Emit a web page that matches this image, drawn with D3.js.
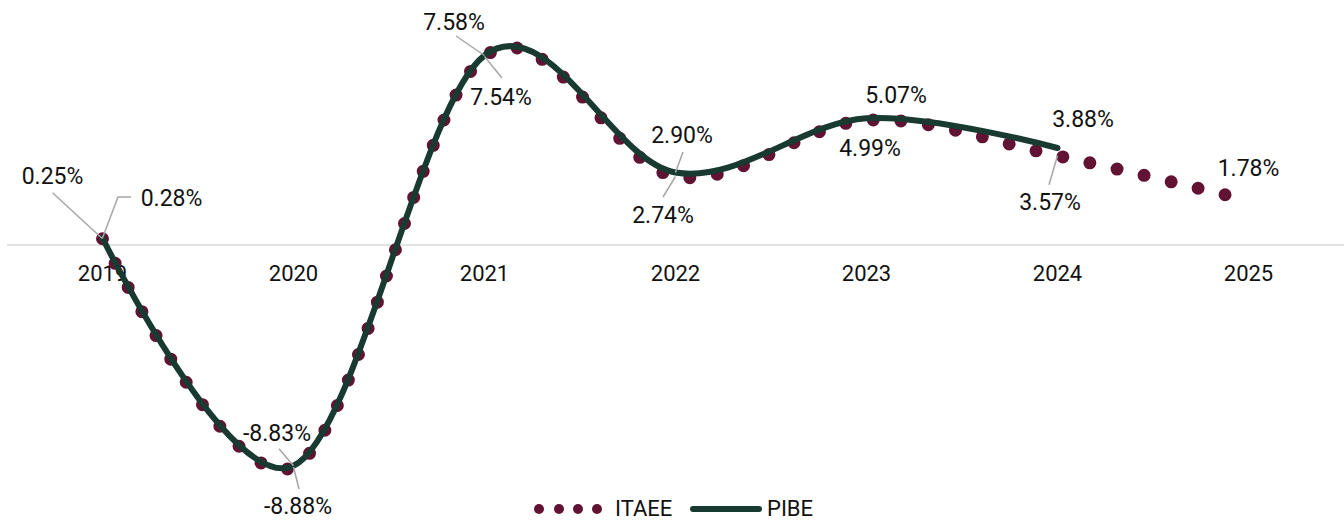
<!DOCTYPE html>
<html>
<head>
<meta charset="utf-8">
<script src="https://cdn.jsdelivr.net/npm/d3@7"></script>
<style>
  body { margin: 0; background: #fff; }
  text { font-family: Roboto, "Noto Sans", sans-serif; }
</style>
</head>
<body>
<div id="chart"></div>
<script>
// yearly growth, %
var years = ["2019", "2020", "2021", "2022", "2023", "2024", "2025"];
var itaee = [0.25, -8.88, 7.54, 2.74, 4.99, 3.57, 1.78];
var pibe = [0.28, -8.83, 7.58, 2.90, 5.07, 3.88];

// label placement: offset of text centre from its point, plus optional leader bend
var labels = [
  { s: "itaee", i: 0, dx: -50, dy: -63, lead: [[-50, -46]] },
  { s: "pibe", i: 0, dx: 69, dy: -40, lead: [[15.5, -41], [28.5, -41]] },
  { s: "pibe", i: 1, dx: -16.5, dy: -33, lead: [[-14.5, -17]] },
  { s: "itaee", i: 1, dx: 4.5, dy: 39, lead: [[5.5, 22]] },
  { s: "pibe", i: 2, dx: -30.5, dy: -33.5, lead: [[-28.5, -19.5]] },
  { s: "itaee", i: 2, dx: 16.5, dy: 40.5, lead: [[17.5, 21.5]] },
  { s: "pibe", i: 3, dx: 6.5, dy: -37.5, lead: [[7.5, -20.5]] },
  { s: "itaee", i: 3, dx: -12.5, dy: 38.5, lead: [[-12.5, 20.5]] },
  { s: "pibe", i: 4, dx: 29.5, dy: -23, lead: null },
  { s: "itaee", i: 4, dx: 3.5, dy: 28, lead: null },
  { s: "pibe", i: 5, dx: 25.5, dy: -29, lead: null },
  { s: "itaee", i: 5, dx: -7.5, dy: 46, lead: [[-8.5, 29]] },
  { s: "itaee", i: 6, dx: 0, dy: -32.5, lead: null }
];

var width = 1344, height = 522;
var dotColor = "#621232", lineColor = "#183a30";
var fontSize = "23px";

var svg = d3.select("#chart").append("svg")
  .attr("width", width)
  .attr("height", height);

var x = d3.scalePoint()
  .domain(years)
  .range([7, 1344])
  .padding(0.5);

var y = d3.scaleLinear()
  .domain([-10, 8])
  .range([495, 45]);

// zero line + year labels sitting under it
svg.append("line")
  .attr("x1", 7).attr("x2", 1344)
  .attr("y1", y(0)).attr("y2", y(0))
  .attr("stroke", "#d9d9d9")
  .attr("stroke-width", 1.5);

svg.append("g").selectAll("text")
  .data(years)
  .enter().append("text")
  .attr("x", function(d) { return x(d); })
  .attr("y", 273)
  .attr("dy", "0.35em")
  .attr("text-anchor", "middle")
  .style("font-size", "22px")
  .attr("fill", "#111")
  .text(function(d) { return d; });

var smooth = d3.line()
  .curve(d3.curveCardinal.tension(0))
  .x(function(d, i) { return x(years[i]); })
  .y(function(d) { return y(d); });

svg.append("path")
  .attr("d", smooth(itaee))
  .attr("fill", "none")
  .attr("stroke", dotColor)
  .attr("stroke-width", 13)
  .attr("stroke-linecap", "round")
  .attr("stroke-dasharray", "0 27.7");

svg.append("path")
  .attr("d", smooth(pibe))
  .attr("fill", "none")
  .attr("stroke", lineColor)
  .attr("stroke-width", 6)
  .attr("stroke-linecap", "round");

// data labels
var series = { itaee: itaee, pibe: pibe };
labels.forEach(function(l) {
  var v = series[l.s][l.i];
  var px = x(years[l.i]), py = y(v);
  if (l.lead) {
    var pts = [[px, py]].concat(l.lead.map(function(p) { return [px + p[0], py + p[1]]; }));
    svg.append("path")
      .attr("d", d3.line()(pts))
      .attr("fill", "none")
      .attr("stroke", "#a6a6a6")
      .attr("stroke-width", 1.5);
  }
  svg.append("text")
    .attr("x", px + l.dx)
    .attr("y", py + l.dy)
    .attr("dy", "0.35em")
    .attr("text-anchor", "middle")
    .style("font-size", fontSize)
    .attr("fill", "#111")
    .text(v.toFixed(2) + "%");
});

// legend
var legend = svg.append("g").attr("transform", "translate(0,508)");
legend.selectAll("circle")
  .data([539, 559, 578, 597])
  .enter().append("circle")
  .attr("cx", function(d) { return d; })
  .attr("cy", 1)
  .attr("r", 5)
  .attr("fill", dotColor);
legend.append("text")
  .attr("x", 615).attr("y", 0).attr("dy", "0.35em")
  .style("font-size", "22px").attr("fill", "#111")
  .text("ITAEE");
legend.append("line")
  .attr("x1", 693).attr("x2", 759)
  .attr("y1", 1).attr("y2", 1)
  .attr("stroke", lineColor)
  .attr("stroke-width", 6)
  .attr("stroke-linecap", "round");
legend.append("text")
  .attr("x", 767).attr("y", 0).attr("dy", "0.35em")
  .style("font-size", "22px").attr("fill", "#111")
  .text("PIBE");
</script>
</body>
</html>
